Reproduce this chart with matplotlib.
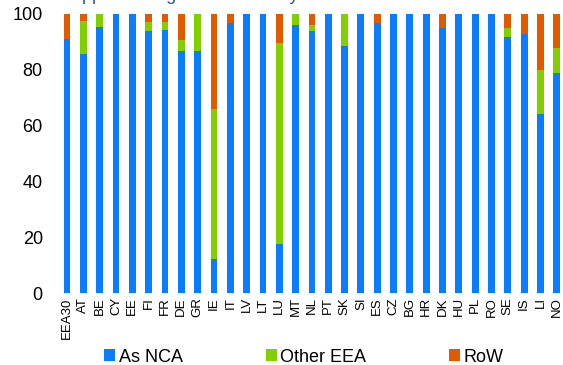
import matplotlib.pyplot as plt
import numpy as np

plt.rcParams['font.family'] = ['Liberation Sans', 'DejaVu Sans']

# countries
countries = ['EEA30', 'AT', 'BE', 'CY', 'EE', 'FI', 'FR', 'DE', 'GR', 'IE', 'IT',
             'LV', 'LT', 'LU', 'MT', 'NL', 'PT', 'SK', 'SI', 'ES', 'CZ', 'BG',
             'HR', 'DK', 'HU', 'PL', 'RO', 'SE', 'IS', 'LI', 'NO']

as_nca = [91.0, 85.7, 95.4, 100, 100, 93.8, 94.4, 86.6, 86.6, 12.2, 96.8,
          100, 100, 17.6, 95.9, 94.0, 100, 88.4, 100, 96.9, 100, 100,
          100, 95.0, 100, 100, 100, 91.9, 92.8, 64.0, 79.0]
other_eea = [0, 11.9, 4.6, 0, 0, 3.2, 2.8, 4.2, 13.4, 53.7, 0,
             0, 0, 72.0, 4.1, 2.2, 0, 11.6, 0, 0, 0, 0,
             0, 0, 0, 0, 0, 3.1, 0, 16.0, 8.8]
row = [9.0, 2.4, 0, 0, 0, 3.0, 2.8, 9.2, 0, 34.1, 3.2,
       0, 0, 10.4, 0, 3.8, 0, 0, 0, 3.1, 0, 0,
       0, 5.0, 0, 0, 0, 5.0, 7.2, 20.0, 12.2]

c_nca = '#0A7DFF'
c_eea = '#80D000'
c_row = '#E25A00'

fig = plt.figure(figsize=(5.63, 3.65), dpi=100)
ax = fig.add_axes([58.8 / 563, 72 / 365, 503 / 563, 279 / 365])

x = np.arange(len(countries))
w = 0.42
nca = np.array(as_nca)
eea = np.array(other_eea)
rw = np.array(row)
ax.bar(x, nca, w, color=c_nca, label='As NCA')
ax.bar(x, eea, w, bottom=nca, color=c_eea, label='Other EEA')
ax.bar(x, rw, w, bottom=nca + eea, color=c_row, label='RoW')

ax.set_xlim(-0.5, 30.3)
ax.set_ylim(0, 100)
ax.set_yticks([0, 20, 40, 60, 80, 100])
ax.set_xticks(x)
ax.set_xticklabels(countries, rotation=90, fontsize=9.5)
ax.tick_params(axis='y', length=0, pad=11.5, labelsize=13)
ax.tick_params(axis='x', length=0, pad=3)
for s in ax.spines.values():
    s.set_visible(False)

# title is cut off at the top of the picture, only the descenders show
fig.text(70 / 563, 1 + 0.5 / 365, 'Approval of grants in total by NCA',
         fontsize=13, color='#2F5597', va='baseline', ha='left')

fig.legend(loc='center', bbox_to_anchor=(0.54, 1 - 357 / 365), ncol=3,
           frameon=False, fontsize=13, handlelength=0.6, handleheight=0.6,
           handletextpad=0.2, columnspacing=4.6)

fig.savefig('out.png', dpi=100)
